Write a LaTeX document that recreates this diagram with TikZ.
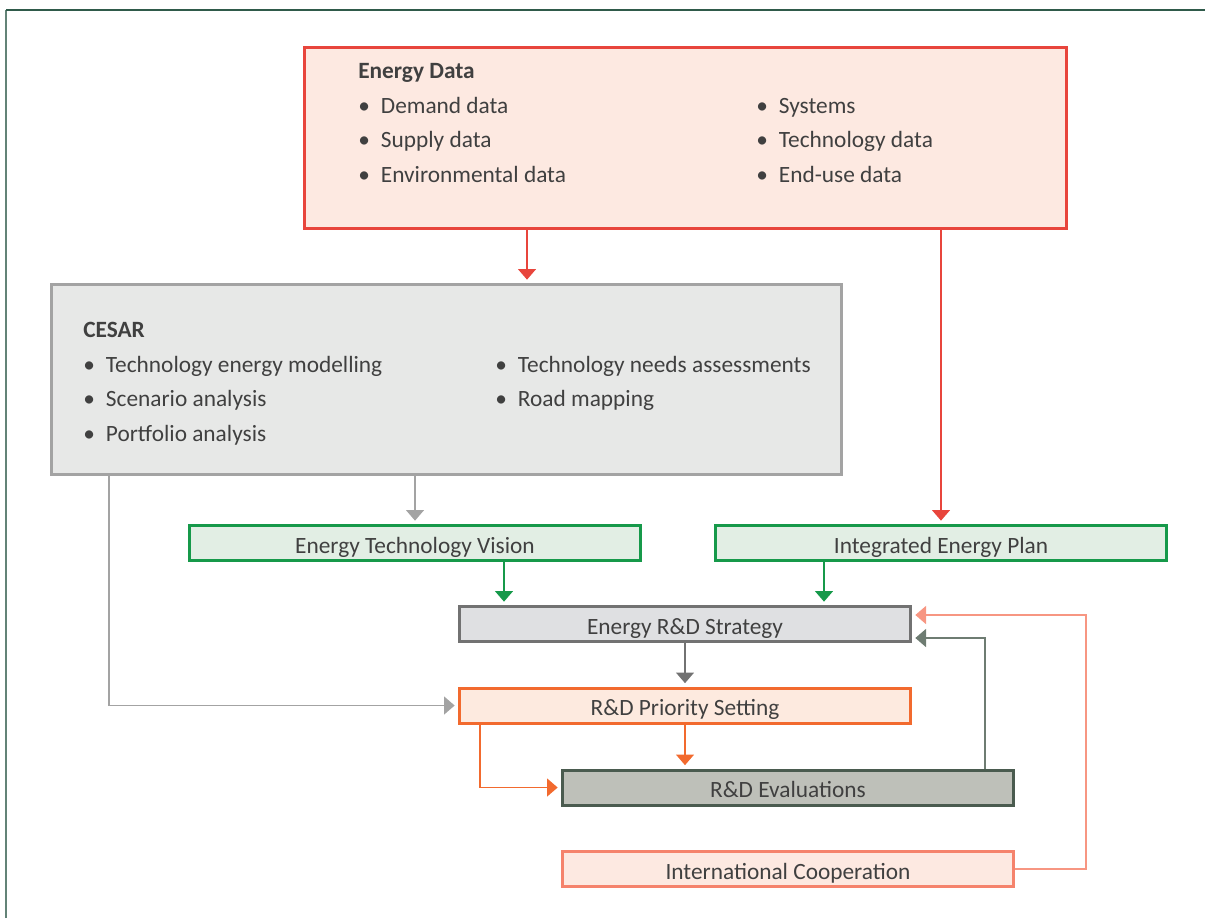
\documentclass[tikz,border=0pt]{standalone}
\usepackage{fontspec}
\setmainfont{Carlito}
\usetikzlibrary{positioning,arrows.meta,calc}

\definecolor{txtgrey}{HTML}{404040}
\definecolor{datared}{HTML}{E8453C}
\definecolor{datafill}{HTML}{FDE9E1}
\definecolor{cesarline}{HTML}{A3A3A3}
\definecolor{cesarfill}{HTML}{E7E8E7}
\definecolor{visgreen}{HTML}{16994A}
\definecolor{visfill}{HTML}{E2EEE4}
\definecolor{stratline}{HTML}{727272}
\definecolor{stratfill}{HTML}{DFE0E2}
\definecolor{prioorange}{HTML}{F26A2E}
\definecolor{priofill}{HTML}{FDEADF}
\definecolor{evalline}{HTML}{4A5B4F}
\definecolor{evalfill}{HTML}{BEC0B9}
\definecolor{coopline}{HTML}{F5836C}
\definecolor{framegreen}{HTML}{2F5A4A}

\newcommand{\bul}{\makebox[17pt][l]{•}}

\begin{document}
\begin{tikzpicture}[
  x=0.75pt, y=-0.75pt,
  font=\fontsize{17.5}{25.9}\selectfont, text=txtgrey,
  box/.style={
    draw, line width=2.25pt, minimum width=338.25pt, minimum height=26.25pt,
    inner sep=2pt, text height=15.5pt, text depth=0.5pt
  },
  bigbox/.style={draw, line width=2.25pt, inner sep=0pt},
  list/.style={anchor=base west, inner sep=0pt},
  visbox/.style={box, draw=visgreen, fill=visfill},
  stratbox/.style={box, draw=stratline, fill=stratfill},
  priobox/.style={box, draw=prioorange, fill=priofill},
  evalbox/.style={box, draw=evalline, fill=evalfill},
  coopbox/.style={box, draw=coopline, fill=datafill},
  conn/.style={->, line width=1.1pt, shorten >=2.5pt},
  >={Triangle[length=8pt,width=13.5pt]}
]
  \useasboundingbox (0,0) rectangle (1205,918);

  % frame
  \draw[framegreen!75, line width=1.5pt] (6,918) -- (6,10);
  \draw[framegreen, line width=1.5pt] (6,10) -- (1205,10);

  % big boxes
  \node[bigbox, draw=datared, fill=datafill, minimum width=571.5pt,
        minimum height=135.75pt] (data) at (685.5,138) {};
  \node[bigbox, draw=cesarline, fill=cesarfill, minimum width=592.5pt,
        minimum height=142.5pt] (cesar) at (446.5,379.5) {};

  \node[list] (datal) at (358,78.5) {\begin{tabular}[t]{@{}l@{}}
    \textbf{Energy Data}\\ \bul Demand data\\ \bul Supply data\\ \bul Environmental data
  \end{tabular}};
  \node[list] (datar) at (756,113) {\begin{tabular}[t]{@{}l@{}}
    \bul Systems\\ \bul Technology data\\ \bul End-use data
  \end{tabular}};
  \node[list] (cesarl) at (83,337.5) {\begin{tabular}[t]{@{}l@{}}
    \textbf{CESAR}\\ \bul Technology energy modelling\\ \bul Scenario analysis\\ \bul Portfolio analysis
  \end{tabular}};
  \node[list] (cesarr) at (495,372) {\begin{tabular}[t]{@{}l@{}}
    \bul Technology needs assessments\\ \bul Road mapping
  \end{tabular}};

  % small boxes
  \node[visbox]   (vision)   at (415,543)   {Energy Technology Vision};
  \node[visbox]   (plan)     at (941,543)   {Integrated Energy Plan};
  \node[stratbox] (strategy) at (685,624)   {Energy R\&D Strategy};
  \node[priobox]  (priority) at (685,705.5) {R\&D Priority Setting};
  \node[evalbox]  (evals)    at (788,787.5) {R\&D Evaluations};
  \node[coopbox]  (coop)     at (788,869)   {International Cooperation};

  % connector start points
  \coordinate (dc) at ($(data.south)+(-158.5,0)$);
  \coordinate (vs) at ($(vision.south)+(89,0)$);
  \coordinate (ps) at ($(plan.south)+(-117,0)$);
  \coordinate (cp) at ($(cesar.south west)+(59,0)$);
  \coordinate (pe) at ($(priority.south west)+(22,0)$);
  \coordinate (es) at ($(evals.north east)+(-30,0)$);
  \coordinate (ct) at ($(coop.east)+(71,0)$);

  \draw[conn, datared] (dc) -- (dc |- cesar.north);
  \draw[conn, datared] (data.south -| plan.north) -- (plan.north);
  \draw[conn, cesarline] (cesar.south -| vision.north) -- (vision.north);
  \draw[conn, visgreen] (vs) -- (vs |- strategy.north);
  \draw[conn, visgreen] (ps) -- (ps |- strategy.north);
  \draw[conn, stratline] (strategy) -- (priority);
  \draw[conn, cesarline] (cp) |- (priority.west);
  \draw[conn, prioorange] (priority.south) -- (priority.south |- evals.north);
  \draw[conn, prioorange] (pe) |- (evals.west);
  \draw[conn, evalline!80] (es) |- ($(strategy.east)+(0,14)$);
  \draw[conn, coopline!85] (coop.east) -- (ct) |- ($(strategy.east)+(0,-9)$);
\end{tikzpicture}
\end{document}
